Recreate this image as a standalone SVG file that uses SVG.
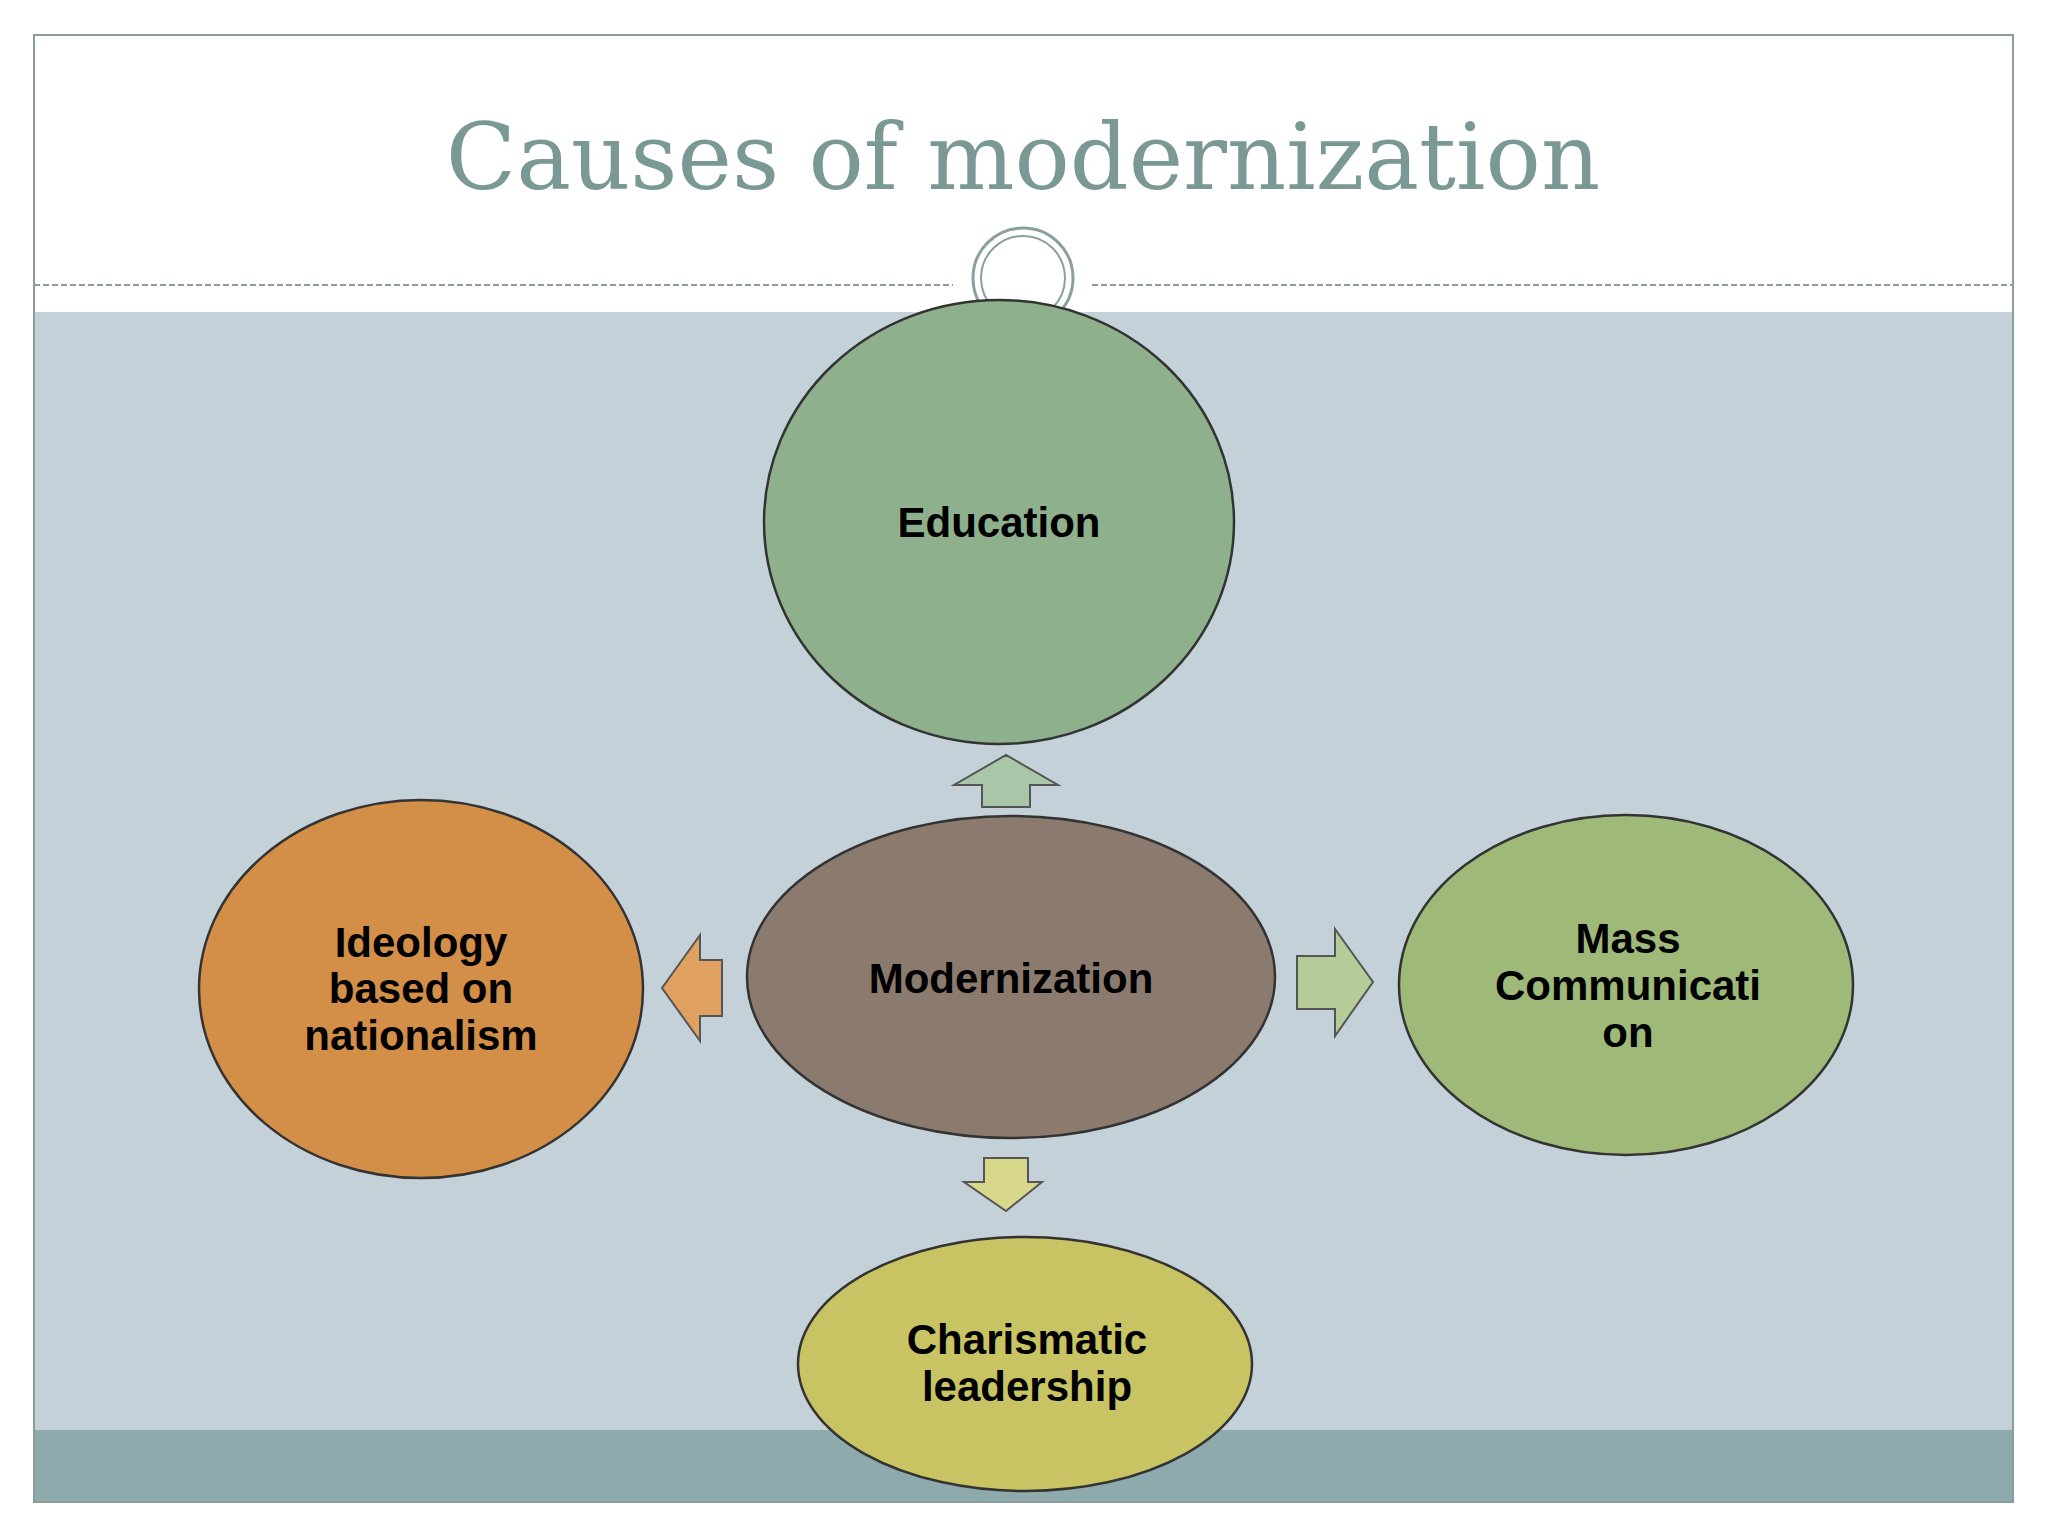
<svg xmlns="http://www.w3.org/2000/svg" width="2048" height="1536" viewBox="0 0 2048 1536">
<style>
.n{stroke:#333;stroke-width:2.5}
.t{font-family:"Liberation Sans",Arial,sans-serif;font-weight:bold;font-size:42px;fill:#000;text-anchor:middle}
.a{stroke:#555;stroke-width:2}
</style>
<rect x="0" y="0" width="2048" height="1536" fill="#fff"/>
<rect x="34" y="312" width="1979" height="1118" fill="#c5d1d8"/>
<rect x="34" y="1430" width="1979" height="72" fill="#8eaaad"/>
<rect x="34" y="35" width="1979" height="1467" fill="none" stroke="#8a9c9c" stroke-width="2"/>
<line x1="34" y1="285" x2="953" y2="285" stroke="#8a9c9c" stroke-width="2" stroke-dasharray="6,3"/>
<line x1="1092" y1="285" x2="2013" y2="285" stroke="#8a9c9c" stroke-width="2" stroke-dasharray="6,3"/>
<circle cx="1023" cy="278" r="50" fill="#fff" stroke="#8aa0a0" stroke-width="3"/>
<circle cx="1023" cy="278" r="42" fill="none" stroke="#8aa0a0" stroke-width="2"/>
<text x="1023" y="189" font-family="Georgia,'DejaVu Serif','Liberation Serif',serif" font-size="92" fill="#7a9995" text-anchor="middle">Causes of modernization</text>
<g id="connectors">
<polygon class="a" fill="#a9c6a8" points="982,807 1030,807 1030,785 1058,785 1006,755 954,785 982,785"/>
<polygon class="a" fill="#e0a060" points="722,960 700,960 700,935 662,988 700,1041 700,1016 722,1016"/>
<polygon class="a" fill="#b6cc98" points="1297,956 1335,956 1335,929 1373,982 1335,1036 1335,1009 1297,1009"/>
<polygon class="a" fill="#d8d88a" points="984,1158 1028,1158 1028,1182 1042,1182 1006,1211 964,1182 984,1182"/>
</g>
<g id="education"><ellipse class="n" cx="999" cy="522" rx="235" ry="222" fill="#8fb08d"/><text class="t" x="999" y="537">Education</text></g>
<g id="modernization"><ellipse class="n" cx="1011" cy="977" rx="264" ry="161" fill="#8b7b6e"/><text class="t" x="1011" y="993">Modernization</text></g>
<g id="ideology"><ellipse class="n" cx="421" cy="989" rx="222" ry="189" fill="#d38f48"/><text class="t" x="421" y="957">Ideology</text><text class="t" x="421" y="1003">based on</text><text class="t" x="421" y="1050">nationalism</text></g>
<g id="mass"><ellipse class="n" cx="1626" cy="985" rx="227" ry="170" fill="#9fba78"/><text class="t" x="1628" y="953">Mass</text><text class="t" x="1628" y="1000">Communicati</text><text class="t" x="1628" y="1047">on</text></g>
<g id="charismatic"><ellipse class="n" cx="1025" cy="1364" rx="227" ry="127" fill="#c8c463"/><text class="t" x="1027" y="1354">Charismatic</text><text class="t" x="1027" y="1401">leadership</text></g>
</svg>
